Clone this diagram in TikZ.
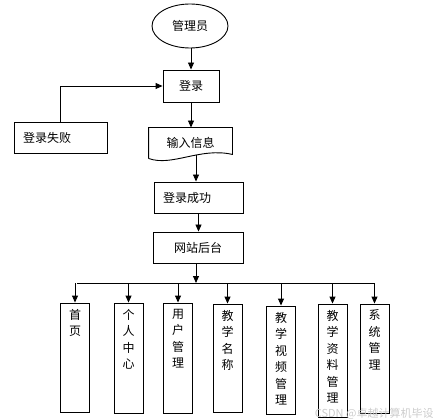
\documentclass[tikz,border=0pt]{standalone}
\usepackage{fontspec}
\newfontfamily\cjk{Noto Sans CJK SC}
\usetikzlibrary{shapes.geometric,arrows.meta}

\begin{document}
\begin{tikzpicture}[x=1pt,y=1pt,line width=0.9pt,
    box/.style={draw,rectangle,inner sep=0pt},
    arr/.style={-{Triangle[length=7pt,width=6pt]}},
    font=\cjk\fontsize{12}{16.5}\selectfont]

  \useasboundingbox (0,0) rectangle (438,-419);

  \node[draw,ellipse,minimum width=76,minimum height=44,inner sep=0pt] (admin) at (190,-26) {管理员};
  \node[box,minimum width=56,minimum height=32] (login) at (191,-86) {登录};
  \draw[arr] (admin.south -| login) -- (login.north);

  \node[inner sep=0pt,minimum width=83,minimum height=30] (input) at (190.5,-143) {输入信息};
  \draw (input.south west) -- (input.north west) -- (input.north east) -- ([yshift=4pt]input.south east)
    .. controls (200,-147) and (172,-167) .. (input.south west);
  \draw[arr] (login.south) -- (login.south |- input.north);

  \node[box,minimum width=93,minimum height=31,text width=75,align=left] (fail) at (60.5,-137.5) {登录失败};
  \draw[arr] (fail.north) |- (login.west);

  \node[box,minimum width=89,minimum height=31,text width=71,align=left] (success) at (198.5,-197.5) {登录成功};
  \draw[arr] ([xshift=5.5pt,yshift=3pt]input.south) -- ([xshift=-2.5pt]success.north);

  \node[box,minimum width=90,minimum height=31] (backend) at (198,-247.5) {网站后台};
  \draw[arr] (success.south) -- (success.south |- backend.north);

  \coordinate (busL) at (77,-283);
  \coordinate (busR) at (374,-283);
  \draw (busL) -- (busR);
  \draw[arr] ([xshift=-2pt]backend.south) -- ([xshift=-2pt]backend.south |- busL);

  \foreach \name/\x/\top/\bot/\txt in {home/75/303/412/{首\\页},
      personal/128.5/303/413/{个\\人\\中\\心},
      user/178/303/413/{用\\户\\管\\理},
      course/227.5/304/412/{教\\学\\名\\称},
      video/281/306/414/{教\\学\\视\\频\\管\\理},
      material/332.5/304/417/{教\\学\\资\\料\\管\\理},
      system/374.5/304/413/{系\\统\\管\\理}}{
    \node[box,minimum width=29,minimum height=\bot-\top] (\name) at (\x,{-(\top+\bot)/2}) {};
    \node[anchor=north,align=center,inner sep=0pt] (\name-t) at ([yshift=-6pt]\name.north) {\txt};
    \draw[arr] (\name.north |- busL) -- (\name.north);
  }

  \node[anchor=east,text=gray!40,font=\cjk\fontsize{11}{11}\selectfont,inner sep=0pt] (mark) at (434,-414) {CSDN @卓越计算机毕设};
\end{tikzpicture}
\end{document}
